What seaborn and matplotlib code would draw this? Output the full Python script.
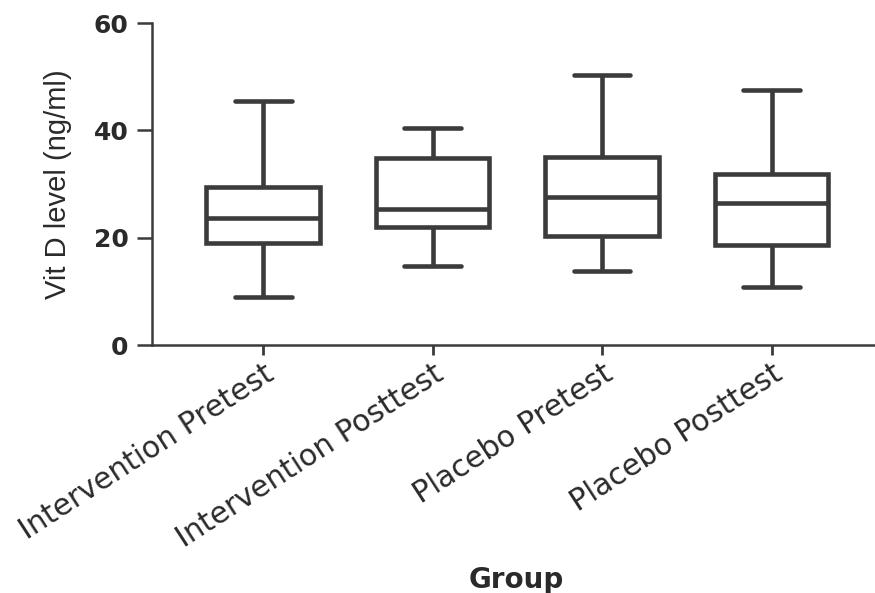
import matplotlib
matplotlib.use("Agg")
import matplotlib.pyplot as plt
import pandas as pd
import seaborn as sns

# ---- data (ng/ml) ----
groups = ["Intervention Pretest", "Intervention Posttest", "Placebo Pretest", "Placebo Posttest"]
whisker_low = [8.9, 14.7, 13.8, 10.8]
q1 = [19.1, 22.0, 20.3, 18.6]
median = [23.6, 25.3, 27.6, 26.4]
q3 = [29.5, 34.8, 35.0, 31.8]
whisker_high = [45.5, 40.4, 50.3, 47.5]

# five-number summary per group -> long table (whiskers span min..max)
rows = []
for i, g in enumerate(groups):
    for v in (whisker_low[i], q1[i], median[i], q3[i], whisker_high[i]):
        rows.append({"Group": g, "Vit D": v})
df = pd.DataFrame(rows)

sns.set_theme(style="ticks")
ink = "#3b3b3b"

fig = plt.figure(figsize=(8.75, 5.93), dpi=100)
ax = fig.add_axes([0.1737, 0.4182, 0.832, 0.543])

sns.boxplot(data=df, x="Group", y="Vit D", order=groups, color="white",
            linecolor=ink, linewidth=3.3, width=0.67, whis=(0, 100),
            fliersize=0, ax=ax)

ax.set_ylim(0, 60)
ax.set_xlim(-0.656, 3.64)
ax.set_yticks([0, 20, 40, 60])
sns.despine(ax=ax)
for side in ("left", "bottom"):
    ax.spines[side].set_linewidth(1.8)
    ax.spines[side].set_color(ink)

ax.tick_params(axis="y", length=11, width=1.8, color=ink, pad=6)
ax.tick_params(axis="x", length=7, width=2.0, color=ink, pad=3)
for lab in ax.get_yticklabels():
    lab.set_fontfamily("DejaVu Sans")
    lab.set_fontweight("bold")
    lab.set_fontsize(18)
    lab.set_color("#2a2a2a")
for lab in ax.get_xticklabels():
    lab.set_fontfamily("DejaVu Sans")
    lab.set_fontsize(21.5)
    lab.set_color("#2a2a2a")
    lab.set_rotation(33)
    lab.set_ha("right")
    lab.set_va("top")
    lab.set_rotation_mode("anchor")

ax.set_ylabel("Vit D level (ng/ml)", fontsize=21, color="#2a2a2a",
              family=["Liberation Sans Narrow", "DejaVu Sans Condensed", "Liberation Sans"])
ax.yaxis.set_label_coords(-0.11, 0.5)
ax.set_xlabel("Group", fontsize=20, fontweight="bold", color="#2a2a2a", family="DejaVu Sans")
ax.xaxis.set_label_coords(0.5, -0.685)

fig.savefig("out.png", dpi=100)
